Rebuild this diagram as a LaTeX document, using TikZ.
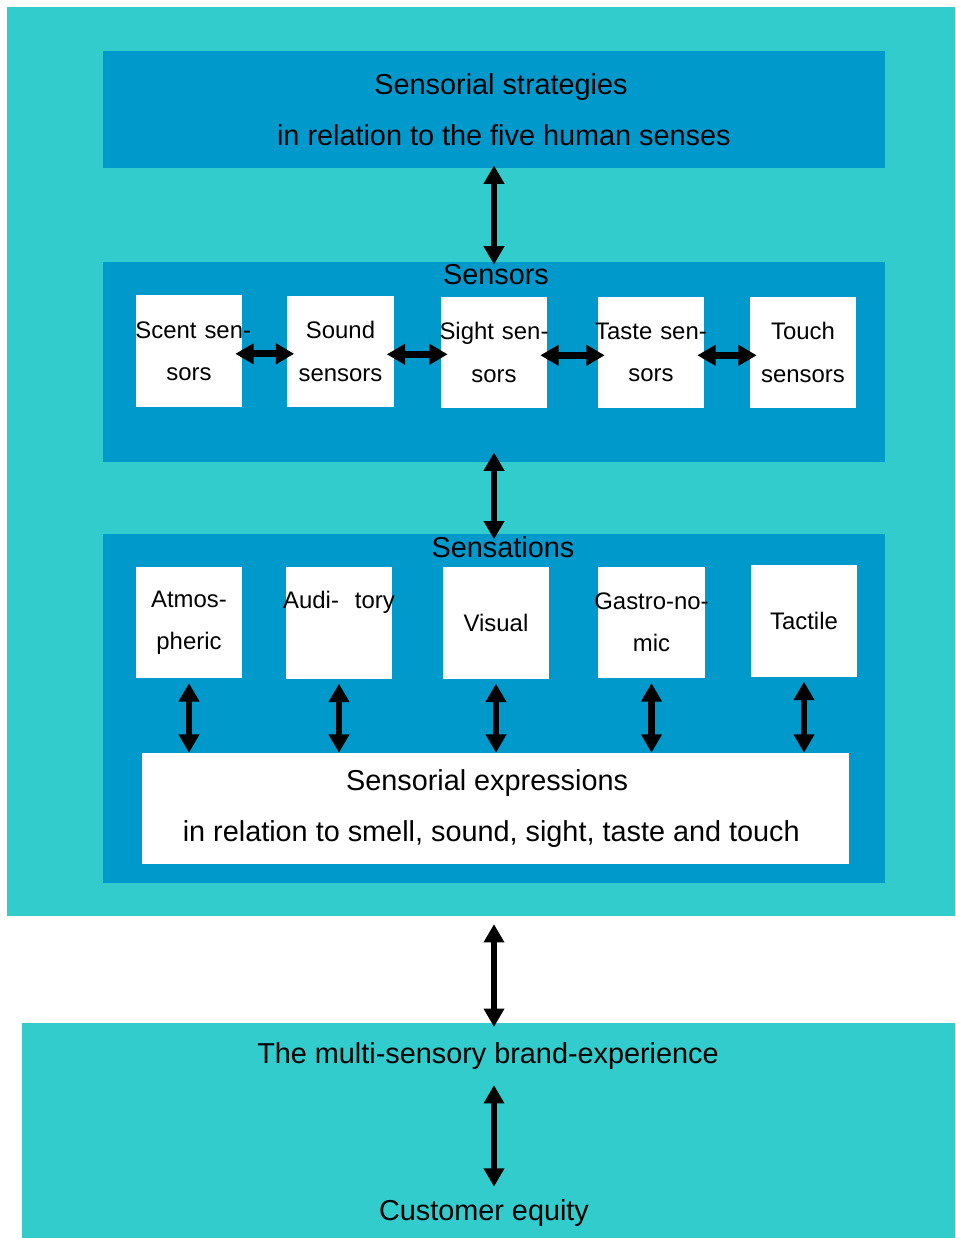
\documentclass[tikz,border=0pt]{standalone}
\usepackage{fontspec}
\setmainfont{Liberation Sans}
\usepackage{xcolor}
\usetikzlibrary{arrows.meta}
\definecolor{areateal}{HTML}{33CCCC}
\definecolor{panelblue}{HTML}{0099CC}
\newcommand{\boxline}[1]{\makebox[2.65cm]{#1}}

\begin{document}
\begin{tikzpicture}[x=0.025cm, y=-0.025cm,
                every node/.style={align=center, inner sep=0pt},
                area/.style={fill=areateal, draw=none},
                panel/.style={fill=panelblue, draw=none},
                big text/.style={font=\fontsize{20.5}{36}\selectfont},
                sense node/.style={fill=white, text width=2.65cm, minimum height=2.775cm, font=\fontsize{17}{30}\selectfont},
                edge/.style={{Triangle[width=14pt,length=13pt]}-{Triangle[width=14pt,length=13pt]}, line width=4.8pt}
            ]

            \useasboundingbox (0,0) rectangle (955,1238);

            % Areas
            \node[area, minimum width=23.7cm, minimum height=22.725cm] (outer) at (481,461.5) {};
            \node[area, minimum width=23.325cm, minimum height=5.375cm] (brand area) at (488.5,1130.5) {};

            % Panels
            \node[panel, big text, minimum width=19.55cm, minimum height=2.925cm] (strategies) at (494,109.5) {\hspace{10pt}Sensorial strategies\\\hspace{14pt}in relation to the five human senses};
            \node[panel, minimum width=19.55cm, minimum height=5cm] (sensors) at (494,362) {};
            \node[panel, minimum width=19.55cm, minimum height=8.725cm] (sensations) at (494,708.5) {};
            \node[big text] (sensors label) at (496,275) {Sensors};
            \node[big text] (sensations label) at (503,547) {Sensations};

            % Sensors
            \node[sense node] (scent) at (189,351) {\boxline{\hspace{6pt}Scent sen-}\\\boxline{sors}};
            \node[sense node] (sound) at (340.5,351.5) {\boxline{Sound}\\\boxline{sensors}};
            \node[sense node] (sight) at (494,352.5) {\boxline{Sight sen-}\\\boxline{sors}};
            \node[sense node] (taste) at (651,352.5) {\boxline{Taste sen-}\\\boxline{sors}};
            \node[sense node] (touch) at (803,352.5) {\boxline{Touch}\\\boxline{sensors}};

            % Sensations
            \node[sense node] (atmos) at (189,622.5) {\boxline{Atmos-}\\\boxline{pheric}};
            \node[sense node] (audi) at (339,623) {\boxline{Audi-\ \ tory}\\\vphantom{p}};
            \node[sense node] (visual) at (496,623) {Visual};
            \node[sense node] (gastro) at (651.5,622.5) {\boxline{Gastro-no-}\\\boxline{mic}};
            \node[sense node] (tactile) at (804,621) {Tactile};
            \node[fill=white, big text, minimum width=17.675cm, minimum height=2.775cm] (expressions) at (495.5,808.5) {\hspace{-12pt}Sensorial expressions\\\hspace{-6pt}in relation to smell, sound, sight, taste and touch};

            % Brand
            \node[big text] (brand) at (488,1056) {The multi-sensory brand-experience};
            \node[big text] (equity) at (484,1213) {Customer equity};

            % Edges
            \draw[edge, shorten <=-2pt, shorten >=-2pt] (strategies.south) -- (sensors.north);
            \draw[edge, shorten <=-7pt, shorten >=-4pt] (sensors.south) -- (sensations.north);
            \foreach \a/\b in {scent/sound, sound/sight, sight/taste, taste/touch}
                \draw[edge, shorten <=-5pt, shorten >=-5pt] ([yshift=-2pt]\a.east) -- ([yshift=-2pt]\a.east -| \b.west);
            \foreach \n in {atmos, audi, visual, gastro, tactile}
                \draw[edge, shorten <=3.5pt] (\n.south) -- (\n.south |- expressions.north);
            \draw[edge, shorten <=5.5pt, shorten >=-3pt] (strategies |- outer.south) -- (strategies |- brand area.north);
            \draw[edge, shorten <=11pt, shorten >=9pt] (strategies |- brand.south) -- (strategies |- equity.north);

\end{tikzpicture}
\end{document}
